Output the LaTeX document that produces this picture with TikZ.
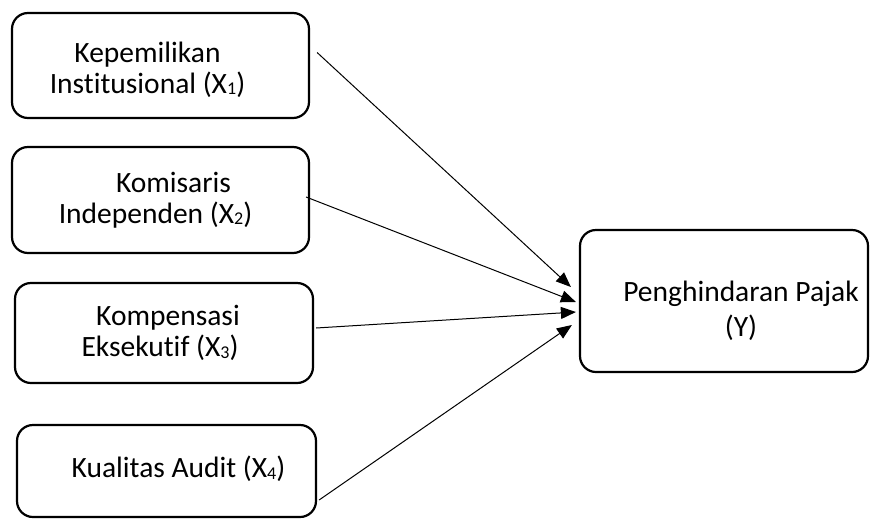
\documentclass[tikz,border=0pt]{standalone}
\usepackage{fontspec}
\setmainfont[Ligatures={NoCommon}]{Carlito}
\usetikzlibrary{arrows.meta}
\definecolor{garis}{RGB}{0,0,0}
\definecolor{latar}{RGB}{255,255,255}
\newcommand{\indeks}[1]{\raisebox{-1.5pt}{\fontsize{18}{18}\selectfont #1}}

\tikzset{
  kotak/.style={draw=garis, line width=2.2pt, rounded corners=16pt, inner sep=0pt, fill=latar},
  teks/.style={align=center, font=\fontsize{29.5}{31}\selectfont, inner sep=0pt},
  panah/.style={draw=garis, line width=1pt, -{Triangle[length=15pt,width=12pt]}}
}

\begin{document}
\begin{tikzpicture}[x=1pt, y=-1pt]
  \useasboundingbox (0,0) rectangle (870,520);
  % variabel bebas (X)
  \node[kotak, minimum width=297pt, minimum height=105pt] (x1) at (160.5,65.5) {};
  \node[kotak, minimum width=297pt, minimum height=106pt] (x2) at (160.5,200) {};
  \node[kotak, minimum width=298pt, minimum height=100pt] (x3) at (164,333) {};
  \node[kotak, minimum width=299pt, minimum height=92pt] (x4) at (166.5,471) {};
  % variabel terikat (Y)
  \node[kotak, minimum width=288pt, minimum height=142pt] (y) at (724,301) {};

  \node[teks] (tx1) at ([xshift=-13pt,yshift=-4pt]x1.center) {Kepemilikan\\Institusional (X\indeks{1})};
  \node[teks] (tx2) at ([xshift=-5pt]x2.center) {\hspace*{36pt}Komisaris\\Independen (X\indeks{2})};
  \node[teks] (tx3) at ([xshift=-4pt]x3.center) {\hspace*{16pt}Kompensasi\\Eksekutif (X\indeks{3})};
  \node[teks] (tx4) at ([xshift=12pt,yshift=2pt]x4.center) {Kualitas Audit (X\indeks{4})};
  \node[teks, font=\fontsize{29.5}{35}\selectfont] (ty) at ([xshift=17pt,yshift=-10pt]y.center) {Penghindaran Pajak\\(Y)};

  % panah pengaruh
  \draw[panah] ([xshift=7pt,yshift=13pt]x1.east) -- ([xshift=-8pt,yshift=14pt]y.west);
  \draw[panah] ([xshift=-4pt,yshift=3pt]x2.east) -- ([xshift=-3pt,yshift=-1pt]y.west);
  \draw[panah] ([xshift=2pt,yshift=5pt]x3.east) -- ([xshift=-3pt,yshift=-11pt]y.west);
  \draw[panah] ([xshift=2pt,yshift=-29pt]x4.east) -- ([xshift=-7pt,yshift=-24pt]y.west);
\end{tikzpicture}
\end{document}
